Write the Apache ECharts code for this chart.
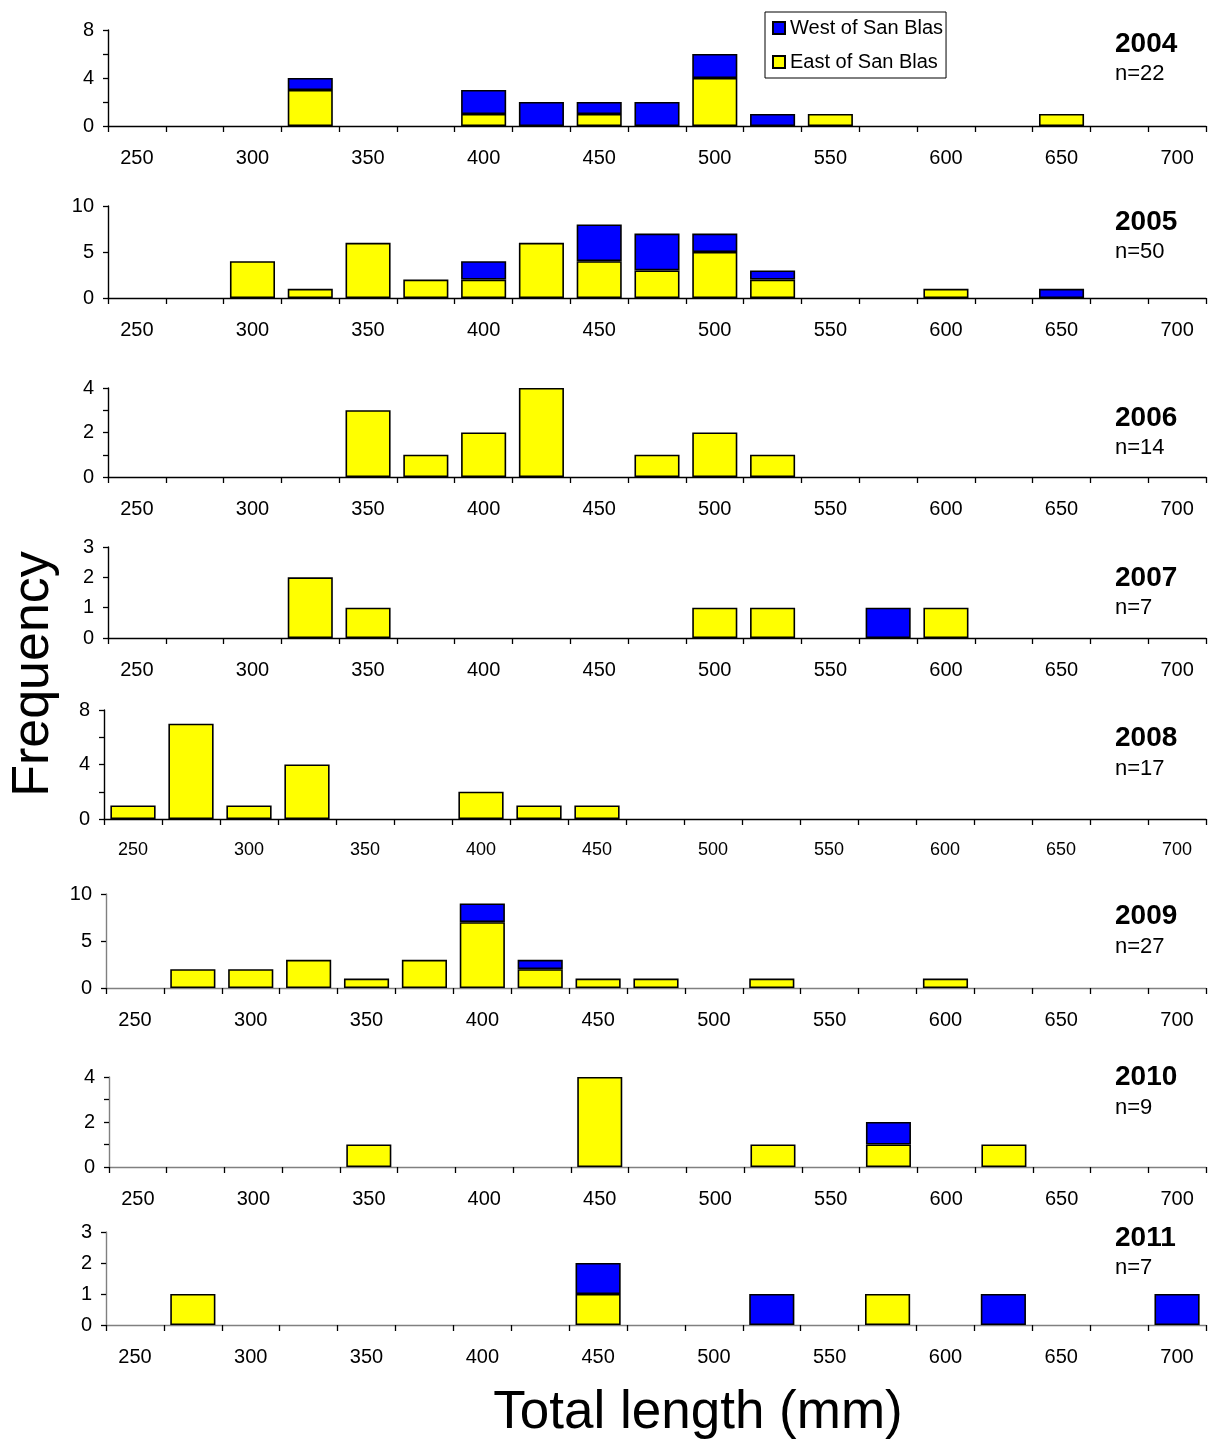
<!DOCTYPE html>
<html>
<head>
<meta charset="utf-8">
<script src="https://cdn.jsdelivr.net/npm/echarts@6/dist/echarts.min.js"></script>
<style>
html,body{margin:0;padding:0;background:#fff;}
#chart{width:1214px;height:1442px;}
</style>
</head>
<body>
<div id="chart"></div>
<script>
// ---- data ----
const categories = ['250','275','300','325','350','375','400','425','450','475','500','525','550','575','600','625','650','675','700'];
const years = ['2004','2005','2006','2007','2008','2009','2010','2011'];
const nLabels = ['n=22','n=50','n=14','n=7','n=17','n=27','n=9','n=7'];
const seriesNames = ['West of San Blas','East of San Blas'];

const east2004 = [0,0,0,3,0,0,1,0,1,0,4,0,1,0,0,0,1,0,0];
const west2004 = [0,0,0,1,0,0,2,2,1,2,2,1,0,0,0,0,0,0,0];
const east2005 = [0,0,4,1,6,2,2,6,4,3,5,2,0,0,1,0,0,0,0];
const west2005 = [0,0,0,0,0,0,2,0,4,4,2,1,0,0,0,0,1,0,0];
const east2006 = [0,0,0,0,3,1,2,4,0,1,2,1,0,0,0,0,0,0,0];
const west2006 = [0,0,0,0,0,0,0,0,0,0,0,0,0,0,0,0,0,0,0];
const east2007 = [0,0,0,2,1,0,0,0,0,0,1,1,0,0,1,0,0,0,0];
const west2007 = [0,0,0,0,0,0,0,0,0,0,0,0,0,1,0,0,0,0,0];
const east2008 = [1,7,1,4,0,0,2,1,1,0,0,0,0,0,0,0,0,0,0];
const west2008 = [0,0,0,0,0,0,0,0,0,0,0,0,0,0,0,0,0,0,0];
const east2009 = [0,2,2,3,1,3,7,2,1,1,0,1,0,0,1,0,0,0,0];
const west2009 = [0,0,0,0,0,0,2,1,0,0,0,0,0,0,0,0,0,0,0];
const east2010 = [0,0,0,0,1,0,0,0,4,0,0,1,0,1,0,1,0,0,0];
const west2010 = [0,0,0,0,0,0,0,0,0,0,0,0,0,1,0,0,0,0,0];
const east2011 = [0,1,0,0,0,0,0,0,1,0,0,0,0,1,0,0,0,0,0];
const west2011 = [0,0,0,0,0,0,0,0,1,0,0,1,0,0,0,1,0,0,1];

const yMax = [8,10,4,3,8,10,4,3];
const yInterval = [2,5,1,1,2,5,1,1];
const yLabelStep = [4,5,2,1,4,5,2,1];

// ---- layout (not data) ----
const eastAll = [east2004,east2005,east2006,east2007,east2008,east2009,east2010,east2011];
const westAll = [west2004,west2005,west2006,west2007,west2008,west2009,west2010,west2011];
const gridTop = [30,206,388,547,710,894,1077,1232];
const gridH = [96,92,89,91,109,94,90,93];
const gridLeft = [108,108,108,108,104,106,109,106];
const yearY = [44,222,418,578,738,916,1077,1238];
const nY = [74,252,448,608,769,947,1108,1268];
const FONT = '"Liberation Sans", Arial, sans-serif';

const grids = [], xAxes = [], yAxes = [], series = [], graphics = [];
for (let i = 0; i < years.length; i++) {
  const axisCol = i >= 5 ? '#808080' : '#000';
  const xFont = i === 4 ? 18 : 20;
  grids.push({left: gridLeft[i], right: 8, top: gridTop[i], height: gridH[i]});
  xAxes.push({
    type: 'category', gridIndex: i, data: categories, boundaryGap: true,
    axisLine: {lineStyle: {color: axisCol, width: 1.4}},
    axisTick: {show: true, interval: 0, length: 6, alignWithLabel: false, lineStyle: {color: '#000', width: 1.3}},
    axisLabel: {interval: 1, margin: 22, color: '#000', fontSize: xFont, fontFamily: FONT},
    splitLine: {show: false}
  });
  const step = yLabelStep[i];
  yAxes.push({
    type: 'value', gridIndex: i, min: 0, max: yMax[i], interval: yInterval[i],
    axisLine: {show: true, lineStyle: {color: axisCol, width: 1.4}},
    axisTick: {show: true, length: 5, lineStyle: {color: '#000', width: 1.3}},
    axisLabel: {margin: 14, color: '#000', fontSize: 20, fontFamily: FONT,
      formatter: v => (v % step === 0 ? String(v) : '')},
    splitLine: {show: false}
  });
  const toBar = arr => arr.map(v => (v === 0 ? '-' : v));
  series.push({
    name: seriesNames[1], type: 'bar', stack: 's' + i, xAxisIndex: i, yAxisIndex: i,
    data: toBar(eastAll[i]), barCategoryGap: '22%',
    itemStyle: {color: '#FFFF00', borderColor: '#000', borderWidth: 1.6},
    emphasis: {disabled: true}
  });
  series.push({
    name: seriesNames[0], type: 'bar', stack: 's' + i, xAxisIndex: i, yAxisIndex: i,
    data: toBar(westAll[i]), barCategoryGap: '22%',
    itemStyle: {color: '#0000FF', borderColor: '#000', borderWidth: 1.6},
    emphasis: {disabled: true}
  });
  graphics.push({type: 'text', x: 1115, y: yearY[i],
    style: {text: years[i], font: 'bold 28px ' + FONT, fill: '#000', align: 'left', verticalAlign: 'middle'}});
  graphics.push({type: 'text', x: 1115, y: nY[i],
    style: {text: nLabels[i], font: '22px ' + FONT, fill: '#000', align: 'left', verticalAlign: 'middle'}});
}
graphics.push({type: 'text', x: 34, y: 674, rotation: Math.PI / 2,
  style: {text: 'Frequency', font: '52px ' + FONT, fill: '#000', align: 'center', verticalAlign: 'middle'}});
graphics.push({type: 'text', x: 698, y: 1413,
  style: {text: 'Total length (mm)', font: '53px ' + FONT, fill: '#000', align: 'center', verticalAlign: 'middle'}});

const chart = echarts.init(document.getElementById('chart'), null, {renderer: 'canvas'});
chart.setOption({
  backgroundColor: '#fff',
  animation: false,
  legend: {
    data: seriesNames, orient: 'vertical', left: 765, top: 12,
    backgroundColor: '#fff', borderColor: '#000', borderWidth: 1,
    padding: [6, 3, 6, 7], itemGap: 14, itemWidth: 12, itemHeight: 12, icon: 'rect',
    selectedMode: false,
    textStyle: {fontSize: 20, lineHeight: 20, color: '#000', fontFamily: FONT}
  },
  grid: grids, xAxis: xAxes, yAxis: yAxes, series: series, graphic: graphics
});
</script>
</body>
</html>
